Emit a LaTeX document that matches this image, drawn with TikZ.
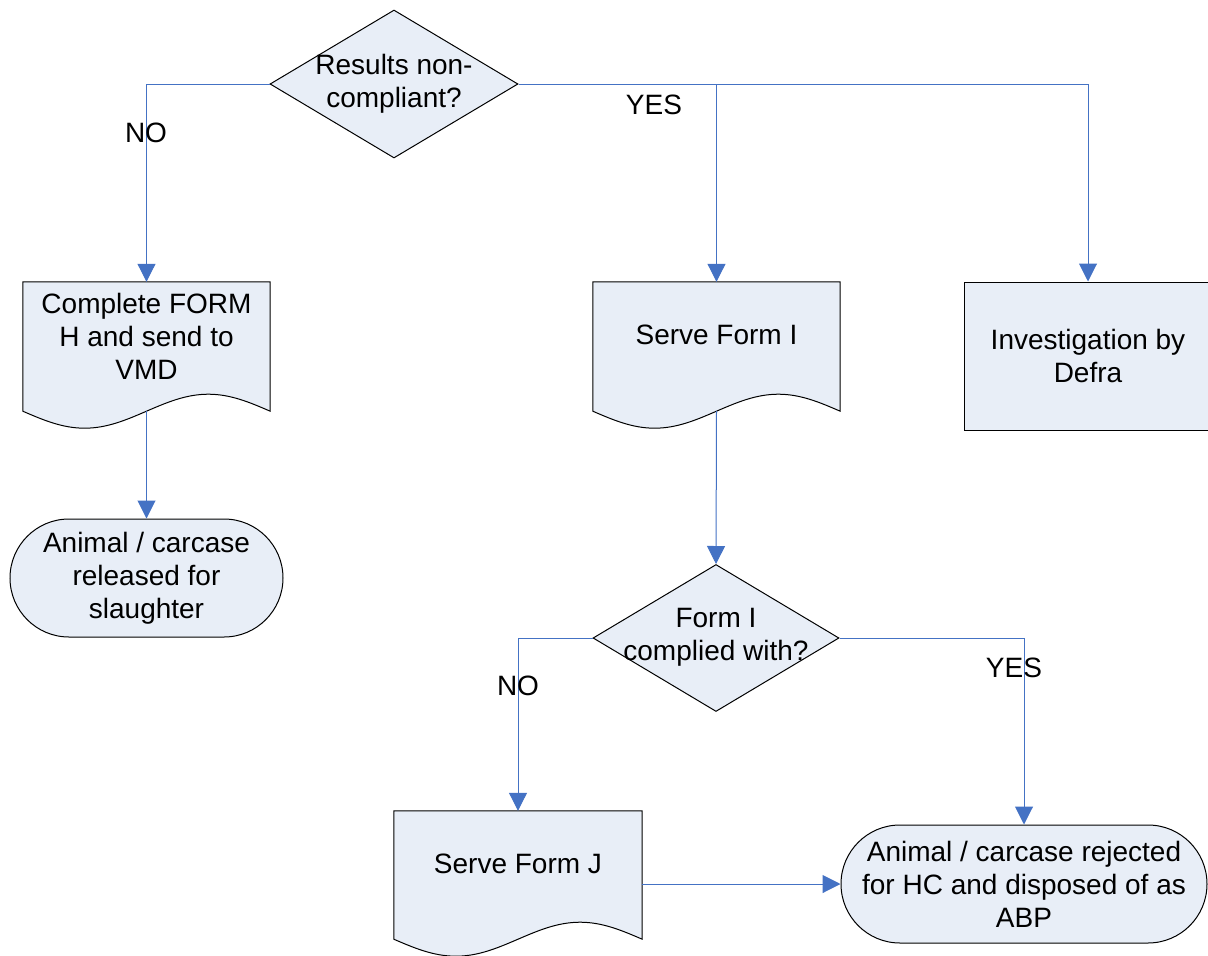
\documentclass[tikz,border=0pt]{standalone}
\usepackage{fontspec}
\setmainfont{Liberation Sans}
\usetikzlibrary{shapes.geometric,shapes.misc,arrows.meta,backgrounds,calc}
\definecolor{boxfill}{RGB}{232,238,247}
\definecolor{connblue}{RGB}{68,114,196}
\tikzset{
  txt/.style={font=\fontsize{28}{33}\selectfont, align=center, inner sep=0pt},
  shapebox/.style={draw=black, fill=boxfill, line width=1pt},
  docbox/.style={rectangle, inner sep=0pt, minimum width=#1},
  decision/.style={diamond, shapebox, inner sep=0pt, minimum width=248pt, minimum height=148pt},
  terminal/.style={rounded rectangle, shapebox, inner sep=0pt, minimum height=118pt},
  procbox/.style={rectangle, shapebox, inner sep=0pt},
  conn/.style={draw=connblue, line width=1pt},
  arr/.style={conn, -{Triangle[width=18pt,length=18pt]}},
}
\newcommand\docoutline[1]{%
  \draw[shapebox] let \p1=(#1.south west), \p2=(#1.south east), \n1={(\x2-\x1)/4} in
  (#1.north west) -- (#1.north east) -- (\p2)
  sin ++(-\n1,17pt) cos ++(-\n1,-17pt) sin ++(-\n1,-17pt) cos ++(-\n1,17pt) -- cycle;}
\begin{document}
\begin{tikzpicture}[x=1pt,y=-1pt]
\useasboundingbox (0,0) rectangle (1208,956);
% decisions
\node[decision, label={[txt,yshift=0.5pt]center:Results non-\\compliant?}] (d1) at (394,84) {};
\node[decision, minimum width=246pt, minimum height=147pt, label={[txt,yshift=1pt]center:Form I\\complied with?}] (d2) at (716,638) {};
% document boxes
\node[docbox=247pt, minimum height=129pt, label={[txt,yshift=10.5pt]center:Complete FORM\\H and send to\\VMD}] (formH) at (146.5,346.5) {};
\node[docbox=247pt, minimum height=129pt, label={[txt,yshift=11.5pt]center:Serve Form I}] (formI) at (716.5,346.5) {};
\node[docbox=248pt, minimum height=128pt, label={[txt,yshift=11pt]center:Serve Form J}] (formJ) at (518,875) {};
\begin{scope}[on background layer]
\docoutline{formH}
\docoutline{formI}
\docoutline{formJ}
\end{scope}
% process box
\node[procbox, minimum width=248pt, minimum height=148pt] (defra) at (1088,356) {};
\node[txt] (defratext) at (defra.center) {Investigation by\\Defra};
% terminals
\node[terminal, minimum width=273pt] (rel) at (146.5,578) {};
\node[txt] (reltext) at (rel.center) {Animal / carcase\\released for\\slaughter};
\node[terminal, minimum width=366pt] (rej) at (1024,884) {};
\node[txt] (rejtext) at (rej.center) {Animal / carcase rejected\\for HC and disposed of as\\ABP};
% connectors
\draw[arr] (d1.west) -| (formH.north);
\draw[arr] (d1.east) -| (formI.north);
\draw[arr] (d1.east) -| (defra.north);
\draw[arr] (formH.south) -- (rel.north);
\draw[arr] (formI.south) -- (d2.north);
\draw[arr] (d2.west) -| (formJ.north);
\draw[arr] (d2.east) -| (rej.north);
\draw[arr] (formJ.east |- rej.west) -- (rej.west);
% branch labels
\node[txt] (no1) at (146,133) {NO};
\node[txt] (yes1) at (654,105) {YES};
\node[txt] (no2) at (518,686) {NO};
\node[txt] (yes2) at (1014,668) {YES};
\end{tikzpicture}
\end{document}
